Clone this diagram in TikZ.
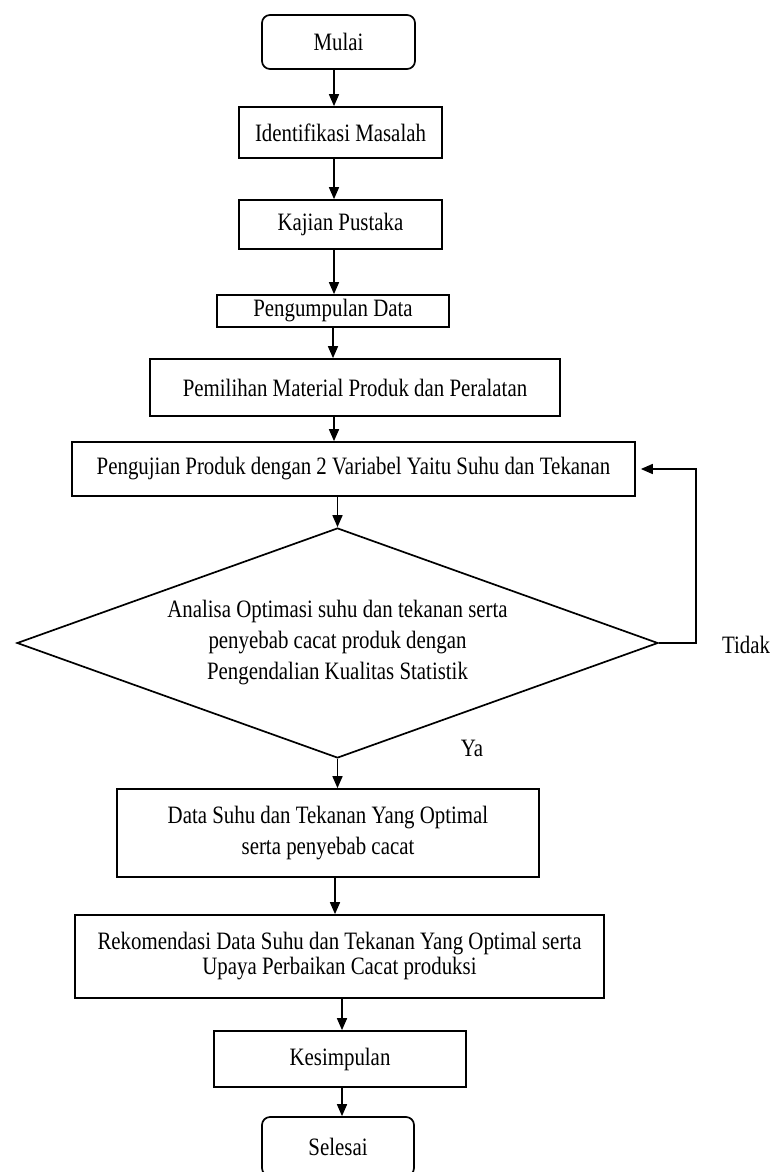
\documentclass[tikz,border=0pt]{standalone}
\usepackage{fontspec}
\setmainfont[FakeStretch=0.835]{Liberation Serif}
\usetikzlibrary{arrows.meta,shapes.geometric}
\begin{document}
\begin{tikzpicture}[x=1pt,y=-1pt,
  txt/.style={font=\fontsize{25}{28}\selectfont},
  box/.style={draw,line width=1.7pt,rectangle,inner sep=0pt,align=center,txt},
  term/.style={box,rounded corners=8pt},
  arr/.style={line width=1.6pt,-{Triangle[width=10pt,length=12pt]}},
  lbl/.style={txt,inner sep=0pt}]
\useasboundingbox (0,0) rectangle (771,1172);
\clip (0,0) rectangle (771,1172);

\node[term,minimum width=153pt,minimum height=54pt] (mulai) at (338.5,42) {Mulai};
\node[box,minimum width=203pt,minimum height=51pt] (ident) at (340.5,132.5) {Identifikasi Masalah};
\node[box,minimum width=203pt,minimum height=49pt] (kajian) at (340.5,224.5) {Kajian Pustaka};
\node[box,minimum width=232pt,minimum height=32pt] (kumpul) at (333,311) {Pengumpulan Data};
\node[box,minimum width=410pt,minimum height=57pt] (pilih) at (355,387.5) {Pemilihan Material Produk dan Peralatan};
\node[box,minimum width=563pt,minimum height=54pt] (uji) at (353.5,469) {Pengujian Produk dengan 2 Variabel Yaitu Suhu dan Tekanan};
\node[draw,diamond,line width=1.7pt,aspect=2.79,inner sep=0pt,minimum width=641pt,minimum height=230pt,align=center,font=\fontsize{25}{31}\selectfont] (dia) at (337.5,643)
  {Analisa Optimasi suhu dan tekanan serta\\penyebab cacat produk dengan\\Pengendalian Kualitas Statistik};
\node[box,minimum width=422pt,minimum height=88pt,font=\fontsize{25}{31}\selectfont] (data) at (328,833) {Data Suhu dan Tekanan Yang Optimal\\serta penyebab cacat};
\node[box,minimum width=529pt,minimum height=83pt,font=\fontsize{25}{25}\selectfont] (rek) at (339.5,956.5) {Rekomendasi Data Suhu dan Tekanan Yang Optimal serta\\Upaya Perbaikan Cacat produksi};
\node[box,minimum width=252pt,minimum height=56pt] (kes) at (340,1059) {Kesimpulan};
\node[term,minimum width=152pt,minimum height=59pt] (sel) at (338,1146.5) {Selesai};

\node[lbl] (tidak) at (746,645) {Tidak};
\node[lbl] (ya) at (472,748) {Ya};

\coordinate (xa) at (334,0);
\coordinate (xb) at (333,0);
\coordinate (xc) at (335,0);
\coordinate (xd) at (342,0);

\draw[arr] (mulai.south -| xa) -- (ident.north -| xa);
\draw[arr] (ident.south -| xa) -- (kajian.north -| xa);
\draw[arr] (kajian.south -| xa) -- (kumpul.north -| xa);
\draw[arr] (kumpul.south -| xb) -- (pilih.north -| xb);
\draw[arr] (pilih.south -| xa) -- (uji.north -| xa);
\draw[arr] (uji.south -| dia.north) -- (dia.north);
\draw[arr] (dia.south) -- (data.north -| dia.south);
\draw[arr] (data.south -| xc) -- (rek.north -| xc);
\draw[arr] (rek.south -| xd) -- (kes.north -| xd);
\draw[arr] (kes.south -| xd) -- (sel.north -| xd);
\draw[arr,shorten >=5pt] (dia.east) -- ++(37,0) |- (uji.east);
\end{tikzpicture}
\end{document}
